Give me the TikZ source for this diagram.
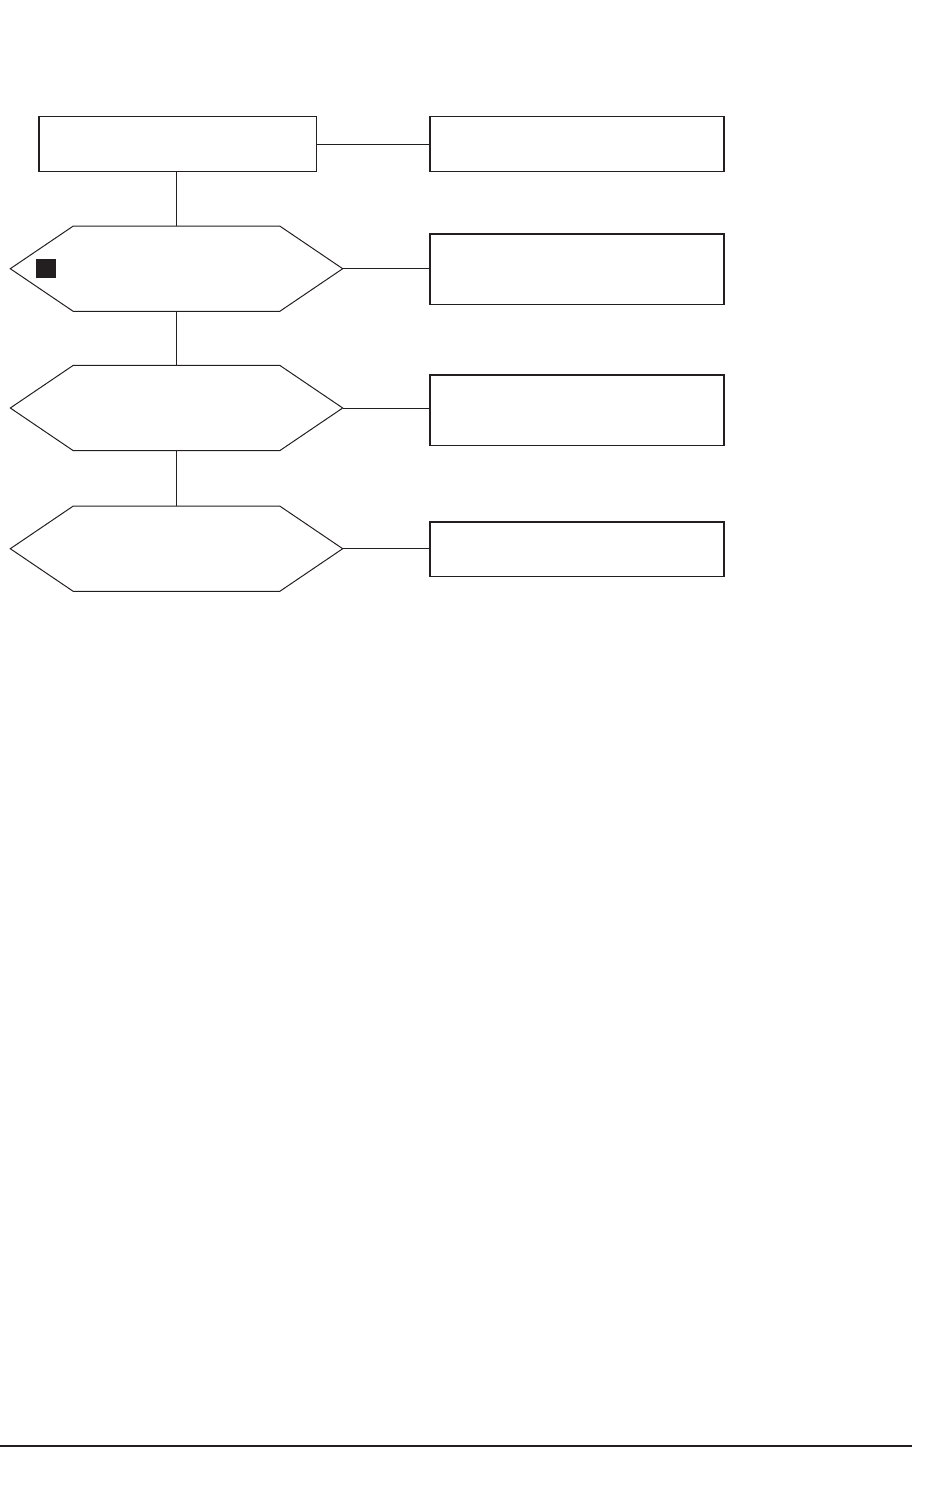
\documentclass[tikz,border=0pt]{standalone}
\definecolor{ink}{HTML}{231F20}
\begin{document}
\begin{tikzpicture}[x=1pt,y=-1pt,
  box/.style={draw=ink,line width=1.2pt,inner sep=0pt,minimum width=294pt,anchor=north west},
  hexframe/.style={inner sep=0pt,minimum width=332pt,minimum height=85pt,anchor=north west},
  hexline/.style={draw=ink,line width=1pt},
  conn/.style={draw=ink,line width=1pt}]
\useasboundingbox (0,0) rectangle (945,1499);
% left column
\node[box,minimum width=277.4pt,minimum height=55pt] (top) at (38.3,116) {};
\node[hexframe] (h1) at (10.3,226) {};
\node[hexframe] (h2) at (10.3,365.3) {};
\node[hexframe] (h3) at (10.3,506) {};
\foreach \h in {h1,h2,h3}{
  \draw[hexline] (\h.west) -- ([xshift=63pt]\h.north west) -- ([xshift=-63pt]\h.north east)
    -- (\h.east) -- ([xshift=-63pt]\h.south east) -- ([xshift=63pt]\h.south west) -- cycle;
}
\node[fill=ink,inner sep=0pt,minimum width=20pt,minimum height=19pt,anchor=north west] (sq) at (36,259) {};
% right column
\node[box,minimum height=55pt] (b1) at (429.3,116) {};
\node[box,minimum height=70.7pt] (b2) at (429.3,233.3) {};
\node[box,minimum height=70.7pt] (b3) at (429.3,374.3) {};
\node[box,minimum height=54.7pt] (b4) at (429.3,521.3) {};
% connectors
\draw[conn] (top.east) -- (top.east -| b1.west);
\draw[conn] (h1.north |- top.south) -- (h1.north);
\draw[conn] (h1.south) -- (h2.north);
\draw[conn] (h2.south) -- (h3.north);
\draw[conn] (h1.east) -- (h1.east -| b2.west);
\draw[conn] (h2.east) -- (h2.east -| b3.west);
\draw[conn] (h3.east) -- (h3.east -| b4.west);
% bottom rule
\coordinate (r1) at (0,1446);
\coordinate (r2) at (912,1446);
\draw[ink,line width=2.2pt] (r1) -- (r2);
\end{tikzpicture}
\end{document}
